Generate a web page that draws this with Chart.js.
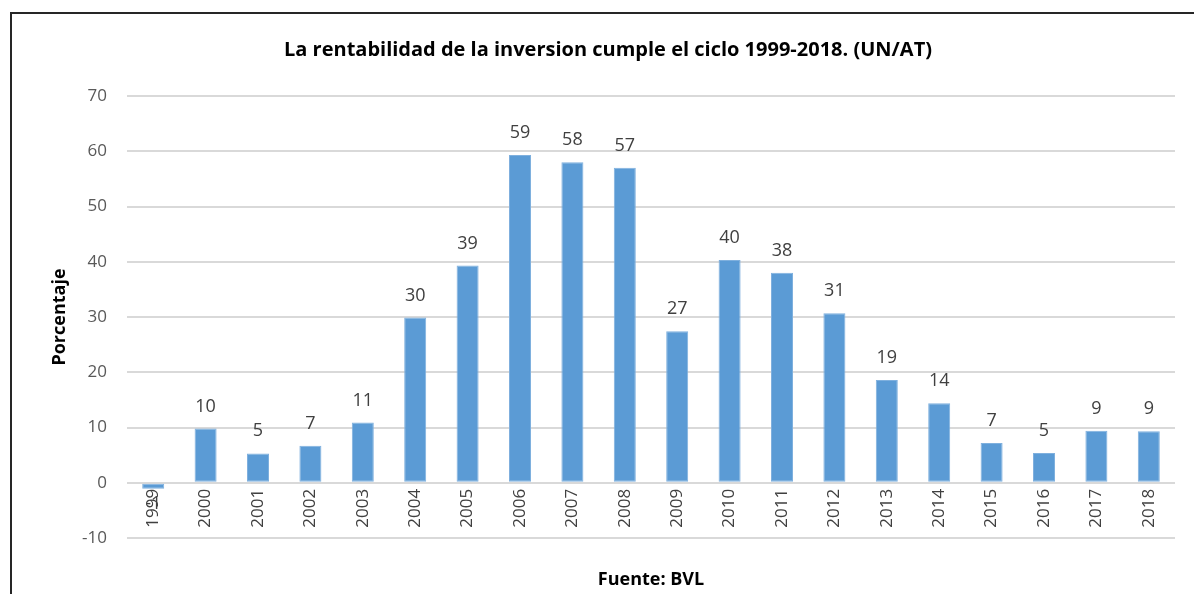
<!DOCTYPE html>
<html>
<head>
<meta charset="utf-8">
<script src="https://cdn.jsdelivr.net/npm/chart.js@4.4.0/dist/chart.umd.min.js"></script>
<style>
    body { margin: 0; background: #fff; }
    #marco {
        position: absolute; left: 10px; top: 12px; width: 1300px; height: 700px;
        border-left: 2px solid #262626; border-top: 2px solid #262626;
    }
    #wrap { position: absolute; left: 0; top: 0; width: 1194px; height: 594px; }
</style>
</head>
<body>
<div id="marco"></div>
<div id="wrap"><canvas id="chart"></canvas></div>
<script>
// 数据
const years = ['1999', '2000', '2001', '2002', '2003', '2004', '2005', '2006', '2007', '2008',
    '2009', '2010', '2011', '2012', '2013', '2014', '2015', '2016', '2017', '2018'];
const rentabilidad = [-1.1, 9.8, 5.3, 6.7, 10.9, 29.9, 39.3, 59.3, 58.0, 57.0,
    27.4, 40.3, 38.0, 30.7, 18.6, 14.4, 7.2, 5.4, 9.4, 9.3];
const yTicks = [-10, 0, 10, 20, 30, 40, 50, 60, 70];
const titulo = 'La rentabilidad de la inversion cumple el ciclo 1999-2018. (UN/AT)';

const FONT = '"Open Sans", sans-serif';

// 标题、零线下方的竖排年份、柱子上方的数值
const labelsPlugin = {
    id: 'labels',
    afterDatasetsDraw(chart) {
        const ctx = chart.ctx;
        const x = chart.scales.x;
        const y = chart.scales.y;
        const zero = y.getPixelForValue(0);
        const meta = chart.getDatasetMeta(0);

        ctx.save();
        // 标题 (居中于外框)
        ctx.fillStyle = '#000';
        ctx.font = 'bold 20px ' + FONT;
        ctx.textAlign = 'center';
        ctx.textBaseline = 'middle';
        ctx.fillText(titulo, 608, 50);

        ctx.fillStyle = '#404040';
        ctx.font = '17px ' + FONT;
        // 年份
        years.forEach((yr, i) => {
            const px = x.getPixelForValue(i);
            ctx.save();
            ctx.translate(px, zero + 6);
            ctx.rotate(-Math.PI / 2);
            ctx.textAlign = 'right';
            ctx.textBaseline = 'middle';
            ctx.fillText(yr, 0, 0);
            ctx.restore();
        });
        // 数值
        ctx.font = '18px ' + FONT;
        ctx.textAlign = 'center';
        meta.data.forEach((bar, i) => {
            const v = rentabilidad[i];
            const txt = String(Math.round(v));
            if (v >= 0) {
                ctx.textBaseline = 'alphabetic';
                ctx.fillText(txt, bar.x, bar.y - 17);
            } else {
                ctx.textBaseline = 'top';
                ctx.fillText(txt, bar.x, bar.y + 6);
            }
        });
        ctx.restore();
    }
};

const ctx = document.getElementById('chart').getContext('2d');
new Chart(ctx, {
    type: 'bar',
    data: {
        labels: years,
        datasets: [{
            data: rentabilidad,
            backgroundColor: '#5B9BD5',
            borderColor: '#7FB0DE',
            borderWidth: 1,
            borderSkipped: false,
            barPercentage: 0.42,
            categoryPercentage: 1
        }]
    },
    options: {
        responsive: true,
        maintainAspectRatio: false,
        animation: false,
        layout: { padding: { left: 0, right: 19, top: 96, bottom: 0 } },
        plugins: {
            legend: { display: false },
            tooltip: { enabled: false },
            title: { display: false }
        },
        scales: {
            x: {
                grid: { display: false },
                border: { display: false },
                ticks: { display: false },
                title: {
                    display: true,
                    text: 'Fuente: BVL',
                    color: '#000',
                    font: { family: FONT, size: 18, weight: 'bold' },
                    padding: { top: 0, bottom: 3 }
                },
                afterFit(scale) { scale.height = 56; }
            },
            y: {
                min: -10,
                max: 70,
                afterBuildTicks(scale) { scale.ticks = yTicks.map(v => ({ value: v })); },
                grid: { color: '#D9D9D9', lineWidth: 2, drawTicks: false },
                border: { display: false },
                ticks: {
                    color: '#595959',
                    font: { family: FONT, size: 17 },
                    padding: 20
                },
                title: {
                    display: true,
                    text: 'Porcentaje',
                    color: '#000',
                    font: { family: FONT, size: 18, weight: 'bold' },
                    padding: { top: 49, bottom: 0 }
                },
                afterFit(scale) { scale.width = 127; }
            }
        }
    },
    plugins: [labelsPlugin]
});
</script>
</body>
</html>
